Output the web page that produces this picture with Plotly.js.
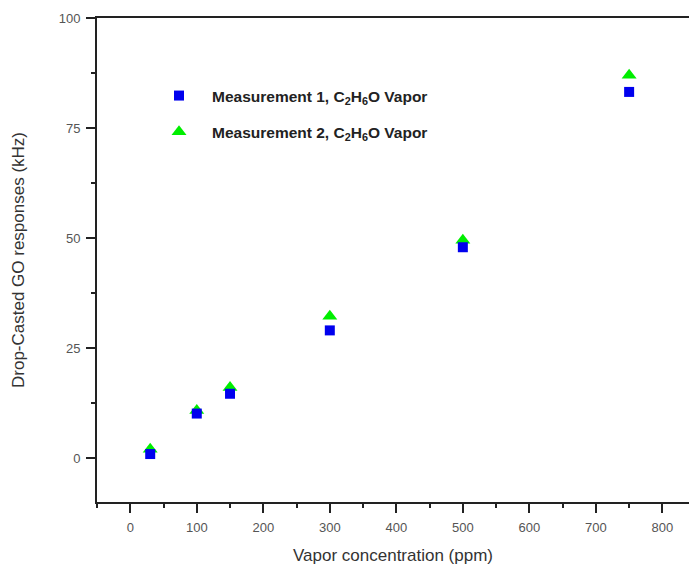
<!DOCTYPE html>
<html>
<head>
<meta charset="utf-8">
<script src="https://cdn.plot.ly/plotly-3.0.1.min.js"></script>
<style>html,body{margin:0;padding:0;background:#fff;}#chart{width:691px;height:569px;}</style>
</head>
<body>
<div id="chart"></div>
<script>
const concentration = [30, 100, 150, 300, 500, 750];
const measurement1 = [0.9, 10.1, 14.6, 29.0, 47.9, 83.2];
const measurement2 = [2.0, 10.8, 16.0, 32.2, 49.5, 87.0];
const seriesNames = ['<b>Measurement 1, C<sub>2</sub>H<sub>6</sub>O Vapor</b>', '<b>Measurement 2, C<sub>2</sub>H<sub>6</sub>O Vapor</b>'];
const xTicks = [0, 100, 200, 300, 400, 500, 600, 700, 800];
const yTicks = [0, 25, 50, 75, 100];

const traces = [
  {x: concentration, y: measurement2, name: seriesNames[1], mode: 'markers', type: 'scatter',
   legendgroup: 'b', legendrank: 2,
   marker: {symbol: 'triangle-up', size: 13, color: '#00ee00'}},
  {x: concentration, y: measurement1, name: seriesNames[0], mode: 'markers', type: 'scatter',
   legendgroup: 'a', legendrank: 1,
   marker: {symbol: 'square', size: 10, color: '#0000ee'}}
];

const axisCommon = {
  showgrid: false, zeroline: false, showline: true, linecolor: '#222', linewidth: 2,
  ticks: 'outside', ticklen: 9, tickwidth: 2, tickcolor: '#222', ticklabelstandoff: 3,
  tickfont: {family: 'Liberation Sans, Arial, sans-serif', size: 13, color: '#555'}
};

const layout = {
  width: 691, height: 569,
  margin: {l: 97, r: 2, t: 18, b: 67},
  paper_bgcolor: '#fff', plot_bgcolor: '#fff',
  showlegend: true,
  legend: {x: 0.0828, y: 0.874, xanchor: 'left', yanchor: 'top', bgcolor: 'rgba(0,0,0,0)',
    traceorder: 'grouped', tracegroupgap: 13, itemwidth: 56,
    font: {family: 'Liberation Sans, Arial, sans-serif', size: 15.5, color: '#222'}},
  xaxis: Object.assign({}, axisCommon, {
    range: [-50, 840], tickvals: xTicks, mirror: true,
    minor: {dtick: 50, tick0: 0, ticks: 'outside', ticklen: 4, tickwidth: 2, tickcolor: '#222'},
    title: {text: 'Vapor concentration (ppm)', standoff: 16,
      font: {family: 'Liberation Sans, Arial, sans-serif', size: 17, color: '#333'}}
  }),
  yaxis: Object.assign({}, axisCommon, {
    range: [-10, 100], tickvals: yTicks,
    minor: {dtick: 12.5, tick0: 0, ticks: 'outside', ticklen: 4, tickwidth: 2, tickcolor: '#222'},
    title: {text: 'Drop-Casted GO responses (kHz)', standoff: 30,
      font: {family: 'Liberation Sans, Arial, sans-serif', size: 17, color: '#333'}}
  })
};

Plotly.newPlot('chart', traces, layout, {displayModeBar: false, staticPlot: true});
</script>
</body>
</html>
